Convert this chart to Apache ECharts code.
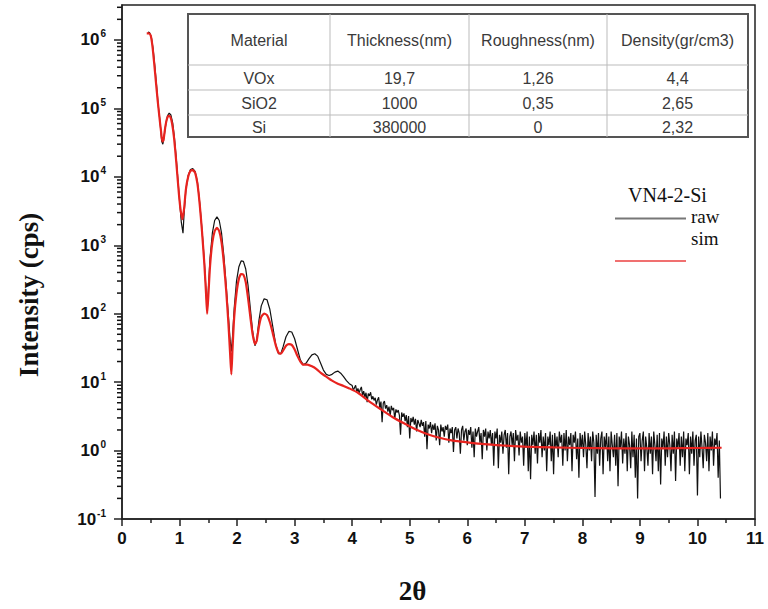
<!DOCTYPE html>
<html>
<head>
<meta charset="utf-8">
<script src="https://cdn.jsdelivr.net/npm/echarts@6/dist/echarts.min.js"></script>
<style>
html,body{margin:0;padding:0;background:#fff;}
#chart{width:768px;height:609px;}
</style>
</head>
<body>
<div id="chart"></div>
<script>
// ---------- data ----------
var rawX = [0.45,0.48,0.51,0.54,0.57,0.60,0.63,0.66,0.69,0.71,0.73,0.76,0.79,0.82,0.85,0.88,0.91,0.94,0.97,1.00,1.03,1.06,1.08,1.11,1.15,1.19,1.23,1.27,1.31,1.35,1.39,1.43,1.46,1.48,1.50,1.53,1.57,1.61,1.65,1.69,1.73,1.77,1.81,1.85,1.88,1.90,1.92,1.95,1.99,2.03,2.07,2.11,2.15,2.19,2.23,2.27,2.31,2.34,2.38,2.42,2.47,2.52,2.57,2.62,2.67,2.72,2.76,2.80,2.85,2.90,2.95,3.00,3.05,3.10,3.15,3.20,3.25,3.30,3.35,3.40,3.45,3.50,3.55,3.60,3.65,3.70,3.75,3.80,3.85,3.90,3.95,
4.00,4.02,4.04,4.06,4.08,4.10,4.12,4.14,4.16,4.18,
4.20,4.22,4.24,4.26,4.28,4.30,4.32,4.34,4.36,4.38,
4.40,4.42,4.44,4.46,4.48,4.50,4.52,4.54,4.56,4.58,
4.60,4.62,4.64,4.66,4.68,4.70,4.72,4.74,4.76,4.78,
4.80,4.82,4.84,4.86,4.88,4.90,4.92,4.94,4.96,4.98,
5.00,5.02,5.04,5.06,5.08,5.10,5.12,5.14,5.16,5.18,
5.20,5.22,5.24,5.26,5.28,5.30,5.32,5.34,5.36,5.38,
5.40,5.42,5.44,5.46,5.48,5.50,5.52,5.54,5.56,5.58,
5.60,5.62,5.64,5.66,5.68,5.70,5.72,5.74,5.76,5.78,
5.80,5.82,5.84,5.86,5.88,5.90,5.92,5.94,5.96,5.98,
6.00,6.02,6.04,6.06,6.08,6.10,6.12,6.14,6.16,6.18,
6.20,6.22,6.24,6.26,6.28,6.30,6.32,6.34,6.36,6.38,
6.40,6.42,6.44,6.46,6.48,6.50,6.52,6.54,6.56,6.58,
6.60,6.62,6.64,6.66,6.68,6.70,6.72,6.74,6.76,6.78,
6.80,6.82,6.84,6.86,6.88,6.90,6.92,6.94,6.96,6.98,
7.00,7.02,7.04,7.06,7.08,7.10,7.12,7.14,7.16,7.18,
7.20,7.22,7.24,7.26,7.28,7.30,7.32,7.34,7.36,7.38,
7.40,7.42,7.44,7.46,7.48,7.50,7.52,7.54,7.56,7.58,
7.60,7.62,7.64,7.66,7.68,7.70,7.72,7.74,7.76,7.78,
7.80,7.82,7.84,7.86,7.88,7.90,7.92,7.94,7.96,7.98,
8.00,8.02,8.04,8.06,8.08,8.10,8.12,8.14,8.16,8.18,
8.20,8.22,8.24,8.26,8.28,8.30,8.32,8.34,8.36,8.38,
8.40,8.42,8.44,8.46,8.48,8.50,8.52,8.54,8.56,8.58,
8.60,8.62,8.64,8.66,8.68,8.70,8.72,8.74,8.76,8.78,
8.80,8.82,8.84,8.86,8.88,8.90,8.92,8.94,8.96,8.98,
9.00,9.02,9.04,9.06,9.08,9.10,9.12,9.14,9.16,9.18,
9.20,9.22,9.24,9.26,9.28,9.30,9.32,9.34,9.36,9.38,
9.40,9.42,9.44,9.46,9.48,9.50,9.52,9.54,9.56,9.58,
9.60,9.62,9.64,9.66,9.68,9.70,9.72,9.74,9.76,9.78,
9.80,9.82,9.84,9.86,9.88,9.90,9.92,9.94,9.96,9.98,
10.00,10.02,10.04,10.06,10.08,10.10,10.12,10.14,10.16,10.18,
10.20,10.22,10.24,10.26,10.28,10.30,10.32,10.34,10.36,10.38,
10.40];
var rawY = [1.3e6,1.28e6,1.1e6,7.5e5,4.2e5,2.2e5,1.1e5,6.5e4,3.3e4,3.0e4,3.8e4,5.8e4,7.8e4,8.5e4,8.0e4,6.2e4,3.8e4,2.0e4,9.5e3,4.5e3,2.2e3,1.5e3,3.0e3,6.5e3,1.05e4,1.28e4,1.32e4,1.2e4,8.5e3,4.2e3,1.7e3,600,220,110,220,650,1500,2300,2600,2300,1500,700,260,90,40,28,45,120,300,480,590,580,450,260,120,55,34,40,80,130,165,160,115,65,36,26,26,33,46,55,54,43,30,21,18,19,22,25,26,24,19,15,13,12.5,13,14,14.5,13.5,12,10.5,9.5,
8.9,7.6,8.3,9.0,7.2,8.1,6.9,7.8,8.5,6.4,
7.4,6.0,7.0,5.1,6.8,6.3,7.1,5.6,6.2,5.4,
5.9,4.7,5.5,6.0,4.2,5.2,2.6,4.9,5.3,4.1,
4.6,3.7,4.4,3.2,4.5,3.9,4.2,2.9,4.0,3.6,
3.9,3.3,1.7,3.6,3.1,3.5,2.7,3.3,2.2,3.2,
1.5,3.0,2.6,3.1,2.4,2.9,1.9,2.8,2.5,2.2,
2.8,2.3,2.6,1.6,2.7,1.05,2.4,2.1,2.6,1.8,
2.4,2.0,2.5,1.4,2.3,2.0,1.2,2.4,1.9,2.2,
1.6,2.3,2.0,2.4,1.3,2.1,1.8,2.2,0.95,2.0,
2.2,1.5,2.1,1.8,0.9,2.0,2.3,1.4,1.9,2.1,
1.2,2.0,1.7,2.2,1.1,1.9,0.8,2.1,1.6,1.9,
2.2,1.3,1.8,0.75,2.0,1.6,2.1,1.0,1.9,1.5,
2.0,1.2,1.8,0.6,1.9,1.5,2.1,0.55,1.7,1.3,
1.9,0.9,1.7,2.0,1.1,1.8,0.45,1.6,1.9,1.2,
1.8,0.7,2.0,1.4,1.7,0.85,1.9,1.3,1.6,0.6,
1.8,1.1,1.9,0.5,1.6,0.38,1.7,1.2,1.9,0.9,
1.7,0.65,1.8,1.3,2.0,0.8,1.6,1.0,1.8,0.5,
1.6,1.2,1.9,0.7,1.7,0.45,1.8,1.1,1.6,0.8,
1.9,1.3,1.7,0.6,1.8,1.0,2.0,0.7,1.6,1.2,
1.8,0.5,1.7,1.3,1.9,0.75,1.5,0.4,1.8,1.1,
1.7,0.8,1.9,1.2,0.55,1.8,1.0,1.6,0.7,1.9,
1.3,0.21,1.7,0.9,1.8,0.6,1.5,1.9,0.45,1.6,
1.1,1.8,0.7,1.6,0.5,1.9,1.2,0.8,1.7,0.6,
1.8,0.3,1.6,1.1,1.9,0.65,1.5,0.9,1.8,0.5,
1.6,1.2,0.55,1.9,0.8,1.7,0.4,1.5,0.2,1.6,
1.8,0.7,1.4,1.9,0.5,1.6,1.1,0.6,1.8,0.9,
1.6,0.45,1.9,1.2,0.7,1.7,0.5,1.8,0.32,1.5,
1.1,1.9,0.6,1.6,0.8,1.8,1.2,0.5,1.7,0.9,
1.9,0.36,1.5,1.1,1.8,0.6,1.6,0.8,1.9,0.5,
1.5,1.2,1.8,0.45,1.6,0.9,1.9,0.6,1.4,1.7,
0.22,1.6,0.8,1.9,1.1,0.55,1.7,1.3,0.7,1.8,
0.5,1.6,1.0,1.9,0.6,1.5,1.2,1.8,0.4,1.4,
0.2];

var simX = [0.43,0.47,0.50,0.53,0.56,0.59,0.62,0.65,0.68,0.70,0.72,0.75,0.78,0.81,0.84,0.87,0.90,0.93,0.96,0.99,1.02,1.05,1.08,1.11,1.15,1.19,1.23,1.27,1.31,1.35,1.39,1.43,1.46,1.48,1.50,1.53,1.57,1.61,1.65,1.69,1.73,1.77,1.81,1.85,1.88,1.90,1.92,1.95,1.99,2.03,2.07,2.11,2.15,2.19,2.23,2.27,2.31,2.34,2.38,2.42,2.47,2.52,2.57,2.62,2.67,2.72,2.76,2.80,2.85,2.90,2.95,3.00,3.05,3.10,3.15,3.22,3.30,3.38,3.46,3.55,3.65,3.75,3.85,3.95,4.1,4.3,4.5,4.7,4.9,5.1,5.3,5.5,5.75,6.0,6.3,6.6,7.0,7.5,8.0,8.5,9.0,9.5,10.0,10.42];
var simY = [1.25e6,1.25e6,1.15e6,8.0e5,4.5e5,2.4e5,1.3e5,7.5e4,4.5e4,3.3e4,3.4e4,5.2e4,7.0e4,7.8e4,7.5e4,6.0e4,4.0e4,2.2e4,1.1e4,5.5e3,3.2e3,2.4e3,3.5e3,6.5e3,1.0e4,1.22e4,1.25e4,1.15e4,8.0e3,4.0e3,1.6e3,550,200,100,180,500,1100,1600,1800,1600,1100,550,220,70,25,13,30,90,200,320,380,370,290,170,90,50,36,40,65,90,100,95,75,52,35,27,26,29,34,36,35,30,24,20,18,18,17,15.5,13.5,12,10.5,9.5,8.8,8.1,7.0,5.2,4.0,3.1,2.5,2.05,1.75,1.55,1.4,1.32,1.24,1.19,1.14,1.11,1.09,1.08,1.08,1.08,1.09,1.1];

var seriesNames = ['raw', 'sim'];
var legendTitle = 'VN4-2-Si';
var xAxisName = '2θ';
var yAxisName = 'Intensity (cps)';
var yMinorTicks = [];
[-1,0,1,2,3,4,5,6].forEach(function(e){ for (var m = 2; m <= 9; m++) { yMinorTicks.push(m * Math.pow(10, e)); } });

var tableHeader = ['Material', 'Thickness(nm)', 'Roughness(nm)', 'Density(gr/cm3)'];
var tableRows = [
  ['VOx', '19,7', '1,26', '4,4'],
  ['SiO2', '1000', '0,35', '2,65'],
  ['Si', '380000', '0', '2,32']
];

// ---------- build ----------
function zip(xs, ys) { return xs.map(function(x, i){ return [x, ys[i]]; }); }

var colEdges = [188, 330, 469, 607, 748];
var rowEdges = [14, 65, 90, 115, 137];
var tableEls = [];
tableEls.push({type:'rect', shape:{x:colEdges[0], y:rowEdges[0], width:colEdges[4]-colEdges[0], height:rowEdges[4]-rowEdges[0]}, style:{fill:'#fff', stroke:'#555', lineWidth:2}, z:100});
for (var c = 1; c < colEdges.length - 1; c++) {
  tableEls.push({type:'line', shape:{x1:colEdges[c], y1:rowEdges[0], x2:colEdges[c], y2:rowEdges[4]}, style:{stroke:'#bbb', lineWidth:1}, z:101});
}
for (var r = 1; r < rowEdges.length - 1; r++) {
  tableEls.push({type:'line', shape:{x1:colEdges[0], y1:rowEdges[r], x2:colEdges[4], y2:rowEdges[r]}, style:{stroke:'#bbb', lineWidth:1}, z:101});
}
var allRows = [tableHeader].concat(tableRows);
allRows.forEach(function(row, ri){
  row.forEach(function(txt, ci){
    tableEls.push({
      type:'text', z:102,
      x:(colEdges[ci] + colEdges[ci+1]) / 2,
      y:(rowEdges[ri] + rowEdges[ri+1]) / 2 + 1,
      style:{text:txt, fill:'#3a3a3a', font:'16px "Liberation Sans", Arial, sans-serif', align:'center', verticalAlign:'middle'}
    });
  });
});

var labelFont = '"Liberation Sans", Arial, sans-serif';
var serifFont = '"Liberation Serif", "Times New Roman", serif';

var chart = echarts.init(document.getElementById('chart'), null, {renderer:'svg'});
chart.setOption({
  animation: false,
  backgroundColor: '#fff',
  title: {
    text: legendTitle, left: 623, top: 180,
    textStyle: {fontFamily: serifFont, fontSize: 20, fontWeight: 'normal', color: '#111'}
  },
  legend: [{
    data: [{name: seriesNames[0], itemStyle: {color: '#777', borderWidth: 0}}],
    left: 610, top: 202, orient: 'vertical',
    icon: 'path://M0,0L0.01,0L0.01,0.01Z M0,4L71,4L71,6L0,6Z', itemWidth: 71, itemHeight: 6,
    textStyle: {fontFamily: serifFont, fontSize: 19, color: '#111'}
  }, {
    data: [{name: seriesNames[1], itemStyle: {color: '#f07070', borderWidth: 0}}],
    left: 610, top: 209, orient: 'vertical',
    icon: 'path://M0,0L0.01,0L0.01,0.01Z M0,46L71,46L71,48L0,48Z', itemWidth: 71, itemHeight: 48,
    textStyle: {fontFamily: serifFont, fontSize: 19, color: '#111'}
  }],
  grid: {left: 122, right: 13, top: 5, bottom: 88, show: true, borderColor: '#222', borderWidth: 1.5},
  xAxis: {
    type: 'value', min: 0, max: 11, interval: 1,
    name: xAxisName, nameLocation: 'middle', nameGap: 58,
    nameTextStyle: {fontFamily: serifFont, fontSize: 27, fontWeight: 'bold', color: '#111', padding: [0, 52, 0, 0]},
    axisLine: {show: true, onZero: false, lineStyle: {color: '#222', width: 1.5}},
    axisTick: {show: true, inside: false, length: 7, lineStyle: {color: '#222', width: 1.5}},
    minorTick: {show: true, splitNumber: 2, length: 4, lineStyle: {color: '#222', width: 1.5}},
    splitLine: {show: false},
    axisLabel: {margin: 11, fontFamily: labelFont, fontWeight: 'bold', fontSize: 17, color: '#111'}
  },
  yAxis: {
    type: 'log', logBase: 10, min: 0.1, max: 3.24e6,
    name: yAxisName, nameLocation: 'middle', nameGap: 80,
    nameTextStyle: {fontFamily: serifFont, fontSize: 27, fontWeight: 'bold', color: '#111', padding: [0, 66, 0, 0]},
    axisLine: {show: true, onZero: false, lineStyle: {color: '#222', width: 1.5}},
    axisTick: {show: true, inside: false, length: 8, lineStyle: {color: '#222', width: 1.5}},
    splitLine: {show: false},
    axisLabel: {
      showMaxLabel: false, margin: 16,
      formatter: function(v){ var e = Math.round(Math.log10(v)); return '{b|10}{s|' + e + '}'; },
      rich: {
        b: {fontFamily: labelFont, fontWeight: 'bold', fontSize: 17, color: '#111'},
        s: {fontFamily: labelFont, fontWeight: 'bold', fontSize: 10, color: '#111', padding: [0, 0, 12, 1]}
      }
    }
  },
  series: [{
    name: seriesNames[0], type: 'line', data: zip(rawX, rawY),
    showSymbol: false, symbol: 'none',
    lineStyle: {color: '#111', width: 1.2}, itemStyle: {color: '#111'}, z: 3
  }, {
    name: seriesNames[1], type: 'line', data: zip(simX, simY),
    showSymbol: false, symbol: 'none', smooth: 0.2,
    lineStyle: {color: '#e8231f', width: 2.2}, itemStyle: {color: '#e8231f'}, z: 4
  }]
});

// log minor ticks on the y axis, placed through the axis scale
var axisX = chart.convertToPixel({xAxisIndex: 0}, 0);
var tickEls = yMinorTicks.map(function(v, i){
  var py = chart.convertToPixel({yAxisIndex: 0}, v);
  return {type: 'line', id: 'ymt' + i, shape: {x1: axisX - 5, y1: py, x2: axisX, y2: py}, style: {stroke: '#111', lineWidth: 1.5}};
});
chart.setOption({graphic: {elements: tickEls.concat(tableEls)}});
</script>
</body>
</html>
